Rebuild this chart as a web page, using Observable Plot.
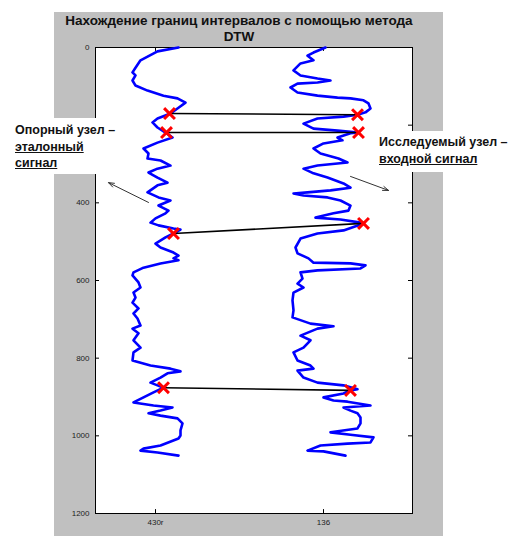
<!DOCTYPE html>
<html>
<head>
<meta charset="utf-8">
<script src="https://cdn.jsdelivr.net/npm/d3@7"></script>
<script src="https://cdn.jsdelivr.net/npm/@observablehq/plot@0.6"></script>
<style>
  html, body { margin: 0; padding: 0; background: #ffffff; }
  #wrap { position: relative; width: 523px; height: 536px; overflow: hidden; font-family: "Liberation Sans", Arial, sans-serif; }
  #fig { position: absolute; left: 54px; top: 12px; width: 389px; height: 524px; background: #c0c0c0; }
  #chart { position: absolute; left: 0; top: 0; }
  #chart svg { background: transparent !important; }
  .title { position: absolute; left: 54px; width: 370px; text-align: center; font-weight: bold; font-size: 13.5px; color: #111; line-height: 16px; }
  .note { position: absolute; background: #ffffff; font-weight: bold; font-size: 12.5px; color: #111; line-height: 16.5px; }
  .note u { text-decoration: underline; }
</style>
</head>
<body>
<div id="wrap">
  <div id="fig"></div>
  <div id="chart"></div>
  <div class="title" style="top:13px">Нахождение границ интервалов с помощью метода<br>DTW</div>
  <div class="note" style="left:8px; top:118px; width:122px; height:56px; padding-left:7px; box-sizing:border-box; padding-top:4px;">Опорный узел –<br><u>эталонный</u><br><u>сигнал</u></div>
  <div class="note" style="left:374px; top:131px; width:149px; height:41px; padding-left:5px; box-sizing:border-box; padding-top:3px;">Исследуемый узел –<br><u>входной сигнал</u></div>
</div>
<script>
// Reference signal (430r): amplitude and depth
const refValue = [83,62,45,40,37,40,37,40,52,68,82,90,83,75,62,57,62,70,77,62,48,53,52,65,75,62,53,62,72,62,52,63,75,63,73,70,60,55,63,78,85,78,70,60,65,78,83,78,83,65,48,38,37,43,45,38,40,37,43,38,42,45,37,43,38,45,38,37,55,75,85,72,65,55,62,68,58,48,38,58,77,65,53,65,82,87,85,85,83,65,48,45,62,83];
const refDepth = [0,10,33,52,64,72,85,98,111,124,131,142,155,170,183,193,206,219,232,245,260,273,286,291,304,312,322,335,348,355,373,386,394,407,420,427,440,451,458,466,469,479,489,505,515,528,536,543,548,556,567,579,587,605,618,631,644,657,672,685,698,716,724,736,754,773,785,806,819,827,834,839,850,863,870,876,888,901,914,922,927,935,942,948,955,968,986,999,1007,1025,1033,1038,1043,1051];

// Investigated signal (136): amplitude and depth
const testValue = [230,218,212,218,205,198,205,222,235,222,202,195,202,222,242,255,268,273,275,270,262,248,222,208,218,242,263,255,242,247,228,218,225,243,252,222,208,218,232,248,255,235,212,198,208,232,245,255,253,238,220,245,265,268,248,222,205,200,202,213,218,255,270,265,222,205,207,202,208,198,197,198,197,215,238,222,205,215,208,198,202,215,218,202,208,222,248,262,255,248,228,238,252,275,248,255,262,265,265,262,235,255,278,275,252,225,212,228,250];
const testDepth = [0,13,21,33,41,59,72,80,85,90,93,103,116,124,129,131,136,144,157,167,173,178,183,196,209,214,219,221,232,239,247,260,273,286,296,304,312,324,335,350,361,368,373,376,381,386,394,407,420,427,438,443,451,453,471,479,492,515,530,543,554,556,561,569,574,579,595,608,618,631,651,677,695,711,718,724,742,754,773,785,806,819,827,832,850,863,870,880,883,891,901,909,912,922,927,935,942,953,968,981,991,997,1004,1017,1020,1025,1038,1040,1051];

// DTW interval borders: matched nodes
const refNodeValue = [74,71,78,68];
const refNodeDepth = [170,219,479,876];
const testNodeValue = [262,263,268,255];
const testNodeDepth = [173,219,453,883];

// Annotation arrows (tail -> head), in data units
const arrowX1 = [53,255];
const arrowY1 = [399,332];
const arrowX2 = [13,293];
const arrowY2 = [348,368];

// Axis ticks (the left "200" label is hidden behind the note box in the reference)
const yTicks = [0,200,400,600,800,1000,1200];
const yTickLabels = [0,400,600,800,1000,1200];
const xTicks = [60,228];
const xTickLabels = ["430r","136"];

const refCurve = refValue.map((v,i) => ({x: v, y: refDepth[i]}));
const testCurve = testValue.map((v,i) => ({x: v, y: testDepth[i]}));
const nodes = refNodeValue.map((v,i) => ({x1: v, y1: refNodeDepth[i], x2: testNodeValue[i], y2: testNodeDepth[i]}));
const allNodes = [
  ...refNodeValue.map((v,i) => ({x: v, y: refNodeDepth[i]})),
  ...testNodeValue.map((v,i) => ({x: v, y: testNodeDepth[i]}))
];
const arrows = arrowX1.map((v,i) => ({x1: v, y1: arrowY1[i], x2: arrowX2[i], y2: arrowY2[i]}));
const xMax = 317;
const tickLen = 4;

const chart = Plot.plot({
  width: 523,
  height: 536,
  marginLeft: 95,
  marginRight: 111,
  marginTop: 47,
  marginBottom: 23,
  style: {background: "transparent", fontFamily: "Liberation Sans, Arial, sans-serif"},
  x: {domain: [0, xMax], axis: null},
  y: {domain: [0, 1200], reverse: true, axis: null},
  marks: [
    Plot.frame({fill: "white"}),
    Plot.ruleY(yTicks, {y: d => d, x1: 0, x2: tickLen, stroke: "#000", strokeWidth: 1}),
    Plot.ruleY(yTicks, {y: d => d, x1: xMax - tickLen, x2: xMax, stroke: "#000", strokeWidth: 1}),
    Plot.ruleX(xTicks, {x: d => d, y1: 0, y2: 10, stroke: "#000", strokeWidth: 1}),
    Plot.ruleX(xTicks, {x: d => d, y1: 1200 - 10, y2: 1200, stroke: "#000", strokeWidth: 1}),
    Plot.axisY({ticks: yTickLabels, anchor: "left", tickSize: 0, tickPadding: 6, fontSize: 8, tickFormat: d => String(d), fill: "#222"}),
    Plot.axisX({ticks: xTicks, anchor: "bottom", tickSize: 0, tickPadding: 6, fontSize: 8, tickFormat: d => xTickLabels[xTicks.indexOf(d)], fill: "#222"}),
    Plot.frame({stroke: "#000", strokeWidth: 1}),
    Plot.line(refCurve, {x: "x", y: "y", stroke: "#0000ff", strokeWidth: 2.6, curve: "linear", strokeLinejoin: "round"}),
    Plot.line(testCurve, {x: "x", y: "y", stroke: "#0000ff", strokeWidth: 2.6, curve: "linear", strokeLinejoin: "round"}),
    Plot.link(nodes, {x1: "x1", y1: "y1", x2: "x2", y2: "y2", stroke: "#000", strokeWidth: 1.6}),
    Plot.dot(allNodes, {x: "x", y: "y", symbol: "times", r: 5, stroke: "#ff0000", strokeWidth: 3}),
    Plot.arrow(arrows, {x1: "x1", y1: "y1", x2: "x2", y2: "y2", stroke: "#333", strokeWidth: 1, headLength: 9, headAngle: 40})
  ]
});
document.getElementById("chart").appendChild(chart);
</script>
</body>
</html>
